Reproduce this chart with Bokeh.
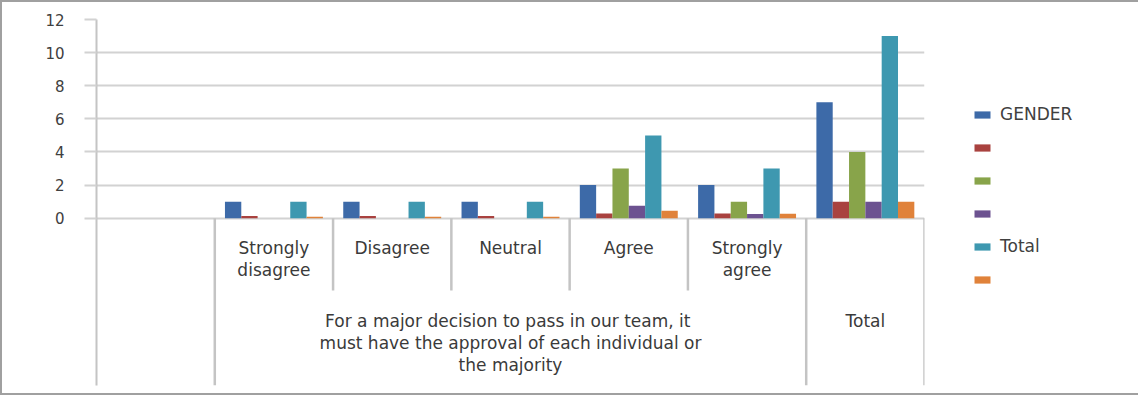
from bokeh.plotting import figure
from bokeh.models import (ColumnDataSource, Range1d, FixedTicker, Legend, LegendItem)
from bokeh.transform import dodge
from bokeh.core.properties import value
from bokeh.embed import file_html
from bokeh.resources import INLINE

# ---- data ----
categories = ["", "Strongly\ndisagree", "Disagree", "Neutral", "Agree", "Strongly\nagree", ""]
group_label = "For a major decision to pass in  our team, it\nmust have the approval of each individual or\nthe majority"
total_label = "Total"
series_names = ["GENDER", " ", "  ", "   ", "Total", "    "]
gender = [0, 1, 1, 1, 2, 2, 7]
s2 = [0, 0.14, 0.14, 0.14, 0.29, 0.29, 1]
s3 = [0, 0, 0, 0, 3, 1, 4]
s4 = [0, 0, 0, 0, 0.75, 0.25, 1]
total = [0, 1, 1, 1, 5, 3, 11]
s6 = [0, 0.09, 0.09, 0.09, 0.45, 0.27, 1]
y_ticks = [0, 2, 4, 6, 8, 10, 12]

colors = ["#3D6AA8", "#A9423F", "#88A44A", "#6C5290", "#3E98B0", "#E0823A"]
series = [gender, s2, s3, s4, total, s6]

n = len(categories)
pos = [i + 0.5 for i in range(n)]

p = figure(frame_width=828, frame_height=366, output_backend="svg", toolbar_location=None,
           x_range=Range1d(0, n), y_range=Range1d(-10.1, 12),
           x_axis_location=None, min_border_left=94, min_border_top=17,
           min_border_right=0, min_border_bottom=8,
           styles={"border": "2px solid #a0a0a0", "box-sizing": "border-box"})
p.outline_line_color = None
p.xgrid.visible = False
p.ygrid.ticker = FixedTicker(ticks=y_ticks)
p.ygrid.grid_line_color = "#d2d2d2"
p.ygrid.grid_line_width = 2
p.yaxis.ticker = FixedTicker(ticks=y_ticks)
p.yaxis.axis_line_color = "#c4c4c4"
p.yaxis.axis_line_width = 2
p.yaxis.major_tick_line_color = "#d2d2d2"
p.yaxis.major_tick_line_width = 2
p.yaxis.major_tick_out = 12
p.yaxis.major_tick_in = 0
p.yaxis.minor_tick_line_color = None
p.yaxis.major_label_standoff = 20
p.yaxis.major_label_text_font = "DejaVu Sans"
p.yaxis.major_label_text_font_size = "15px"
p.yaxis.major_label_text_color = "#404040"

data = {"x": pos}
for k, s in enumerate(series):
    data[f"s{k}"] = s
src = ColumnDataSource(data)

bw = 0.138
items = []
for k in range(6):
    r = p.vbar(x=dodge("x", (k - 2.5) * bw, range=p.x_range), top=f"s{k}", bottom=0,
               width=bw, source=src, fill_color=colors[k], line_color=None)
    items.append(LegendItem(label=value(series_names[k]), renderers=[r]))

# category separators
major_bounds = [1, n - 1, n]
minor_bounds = [2, 3, 4, 5]
p.segment(x0=major_bounds, x1=major_bounds, y0=[0] * 3, y1=[-10.1] * 3,
          line_color="#c4c4c4", line_width=2.5)
p.segment(x0=minor_bounds, x1=minor_bounds, y0=[0] * 4, y1=[-4.37] * 4,
          line_color="#c4c4c4", line_width=2.5)

# category labels
p.text(x=pos, y=[-1.2] * n, text=categories, text_align="center", text_baseline="top",
       text_font=value("DejaVu Sans"), text_font_size="17px", text_color="#3a3a3a",
       text_line_height=1.1)
p.text(x=[(1 + n - 1) / 2, n - 0.5], y=[-5.6, -5.6], text=[group_label, total_label],
       text_align="center", text_baseline="top",
       text_font=value("DejaVu Sans"), text_font_size="17px", text_color="#3a3a3a",
       text_line_height=1.1)

legend = Legend(items=items, location=(48, 96), orientation="vertical",
                glyph_width=20, glyph_height=9, label_height=20, spacing=13,
                label_text_font="DejaVu Sans", label_text_font_size="17px",
                label_text_color="#404040", label_standoff=8,
                border_line_color=None, background_fill_alpha=0, margin=0, padding=0)
p.add_layout(legend, "right")

open("out.html", "w").write(file_html(p, INLINE))
